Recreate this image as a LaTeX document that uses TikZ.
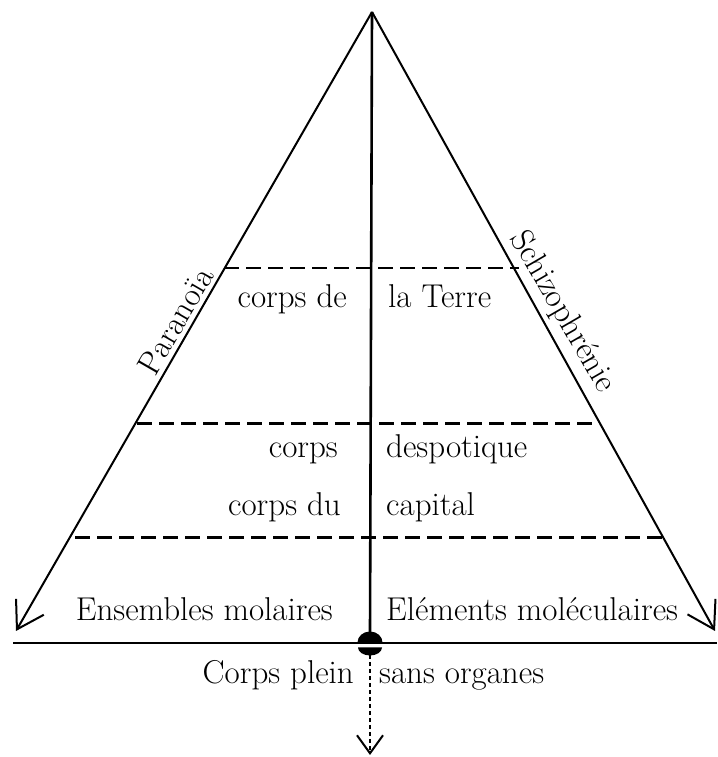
\documentclass[tikz,border=0pt]{standalone}
\usepackage{fontspec}
\usetikzlibrary{arrows.meta}
\usetikzlibrary{positioning}

\tikzset{
  side/.style={line width=2pt,-{Straight Barb[length=26pt,width=32pt]}},
  layer/.style={line width=2.6pt,dash pattern=on 15pt off 7pt},
  lbl/.style={font=\fontsize{33}{40}\selectfont,inner sep=0pt},
  flow/.style={line width=2pt,dash pattern=on 4pt off 3pt,-{Straight Barb[length=18pt,width=26pt]}}
}

\begin{document}
\begin{tikzpicture}[x=1pt,y=1pt]
\useasboundingbox (0,0) rectangle (717,757);
% pyramid
\coordinate (apex) at (372,745);
\coordinate (ltip) at (16,126);
\coordinate (rtip) at (715,126);
\draw[side] (apex) -- (ltip);
\draw[side] (apex) -- (rtip);
\coordinate (gl) at (13,113.5);
\coordinate (gr) at (717,113.5);
\draw[line width=2pt] (gl) -- (gr);
\coordinate (ktop) at (370,124);
\draw[line width=2.6pt] (apex) -- (ktop);
\coordinate (knot) at (370,113.5);
\fill (knot) ++(-12.5,1) arc[start angle=180,end angle=0,x radius=12.5,y radius=11] -- cycle;
\coordinate (kbot) at (370,109.5);
\fill (kbot) ++(-12,0) arc[start angle=180,end angle=360,x radius=12,y radius=8] -- cycle;
\coordinate (ktail) at (370,102);
\coordinate (down) at (370,2);
\draw[flow] (ktail) -- (down);

% layers
\coordinate (d1l) at (224,489); \coordinate (d1r) at (519,489);
\coordinate (d2l) at (137,333.5); \coordinate (d2r) at (599,333.5);
\coordinate (d3l) at (75,219.6); \coordinate (d3r) at (663,219.6);
\draw[layer] (d1l) -- (d1r);
\draw[layer] (d2l) -- (d2r);
\draw[layer] (d3l) -- (d3r);

% texts
\node[lbl,anchor=base east] (terreL) at (347,449) {corps de};
\node[lbl,anchor=base west] (terreR) at (388,449) {la Terre};
\node[lbl,anchor=base east] (despL) at (338,299) {corps};
\node[lbl,anchor=base west] (despR) at (386,299) {despotique};
\node[lbl,anchor=base east] (capL) at (341,241) {corps du};
\node[lbl,anchor=base west] (capR) at (386,241) {capital};
\node[lbl,anchor=base east] (molaire) at (333,136) {Ensembles molaires};
\node[lbl,anchor=base west] (molec) at (386,136) {Eléments moléculaires};
\node[lbl,anchor=base east] (cspL) at (354,73) {Corps plein};
\node[lbl,anchor=base west] (cspR) at (379,73) {sans organes};
\node[lbl,anchor=south,rotate=60,inner sep=5pt] (para) at (190,428) {Paranoïa};
\node[lbl,anchor=south,rotate=-60,inner sep=5pt] (schizo) at (545,435) {Schizophrénie};
\end{tikzpicture}
\end{document}
